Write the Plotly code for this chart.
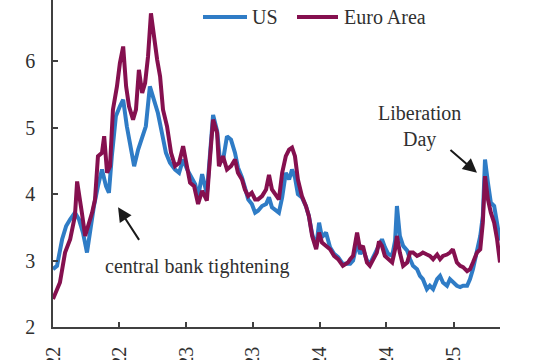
import plotly.graph_objects as go

us_dates = [
    "2022-01-01", "2022-01-12", "2022-01-26", "2022-02-06", "2022-02-17", "2022-03-02",
    "2022-03-13", "2022-03-24", "2022-04-04", "2022-04-12", "2022-04-23", "2022-05-04",
    "2022-05-15", "2022-05-26", "2022-06-03", "2022-06-11", "2022-06-22", "2022-07-03",
    "2022-07-12", "2022-07-22", "2022-08-02", "2022-08-11", "2022-08-22", "2022-09-02",
    "2022-09-12", "2022-09-23", "2022-10-04", "2022-10-15", "2022-10-26", "2022-11-06",
    "2022-11-17", "2022-12-01", "2022-12-12", "2022-12-23", "2023-01-03", "2023-01-14",
    "2023-01-25", "2023-02-02", "2023-02-13", "2023-02-26", "2023-03-07", "2023-03-15",
    "2023-03-26", "2023-04-03", "2023-04-11", "2023-04-22", "2023-05-03", "2023-05-14",
    "2023-05-22", "2023-06-02", "2023-06-10", "2023-06-19", "2023-06-29", "2023-07-08",
    "2023-07-16", "2023-07-27", "2023-08-07", "2023-08-15", "2023-08-23", "2023-09-03",
    "2023-09-11", "2023-09-20", "2023-09-30", "2023-10-09", "2023-10-17", "2023-10-25",
    "2023-11-02", "2023-11-13", "2023-11-24", "2023-12-02", "2023-12-11", "2023-12-22",
    "2023-12-30", "2024-01-07", "2024-01-18", "2024-01-29", "2024-02-09", "2024-02-20",
    "2024-03-04", "2024-03-18", "2024-03-24", "2024-04-01", "2024-04-12", "2024-04-20",
    "2024-04-28", "2024-05-09", "2024-05-17", "2024-05-26", "2024-06-05", "2024-06-19",
    "2024-06-27", "2024-07-06", "2024-07-17", "2024-07-25", "2024-07-30", "2024-08-07",
    "2024-08-16", "2024-08-27", "2024-09-04", "2024-09-12", "2024-09-23", "2024-10-01",
    "2024-10-09", "2024-10-20", "2024-10-28", "2024-11-06", "2024-11-17", "2024-11-25",
    "2024-12-03", "2024-12-14", "2024-12-22", "2024-12-30", "2025-01-10", "2025-01-19",
    "2025-01-27", "2025-02-07", "2025-02-15", "2025-02-23", "2025-03-06", "2025-03-15",
    "2025-03-22", "2025-03-28", "2025-04-05", "2025-04-13", "2025-04-22", "2025-04-30",
    "2025-05-08",
]
us_values = [
    2.87, 2.92, 3.32, 3.52, 3.62, 3.72,
    3.62, 3.42, 3.12, 3.42, 3.82, 4.12,
    4.37, 4.12, 4.02, 4.57, 5.17, 5.32,
    5.42, 5.02, 4.67, 4.42, 4.67, 4.87,
    5.02, 5.62, 5.42, 5.22, 4.92, 4.62,
    4.47, 4.37, 4.32, 4.52, 4.37, 4.27,
    4.15, 3.95, 4.30, 4.00, 4.60, 5.19,
    4.95, 4.50, 4.50, 4.87, 4.82, 4.62,
    4.40, 4.25, 4.10, 3.92, 3.85, 3.72,
    3.75, 3.82, 3.85, 3.95, 3.80, 3.75,
    3.72, 3.95, 4.32, 4.22, 4.37, 4.25,
    4.00, 3.95, 3.82, 3.67, 3.40, 3.20,
    3.57, 3.35, 3.42, 3.20, 3.10, 3.05,
    2.95, 2.95, 2.95, 3.00, 3.27, 3.10,
    3.17, 3.00, 2.95, 3.05, 3.17, 3.32,
    3.20, 3.10, 3.07, 3.30, 3.82, 3.37,
    3.22, 3.15, 3.02, 2.92, 2.87, 2.77,
    2.72, 2.57, 2.62, 2.57, 2.72, 2.77,
    2.67, 2.62, 2.72, 2.67, 2.62, 2.60,
    2.62, 2.62, 2.72, 2.87, 3.12, 3.37,
    3.67, 4.52, 4.17, 3.87, 3.82, 3.57,
    3.30,
]

ea_dates = [
    "2022-01-01", "2022-01-20", "2022-02-03", "2022-02-17", "2022-03-02", "2022-03-08",
    "2022-03-21", "2022-03-30", "2022-04-07", "2022-04-18", "2022-04-26", "2022-05-04",
    "2022-05-15", "2022-05-21", "2022-05-29", "2022-06-06", "2022-06-14", "2022-06-25",
    "2022-07-03", "2022-07-12", "2022-07-20", "2022-07-28", "2022-08-08", "2022-08-16",
    "2022-08-24", "2022-09-02", "2022-09-10", "2022-09-18", "2022-09-26", "2022-10-04",
    "2022-10-13", "2022-10-21", "2022-10-29", "2022-11-09", "2022-11-20", "2022-12-01",
    "2022-12-12", "2022-12-23", "2023-01-03", "2023-01-11", "2023-01-22", "2023-02-02",
    "2023-02-13", "2023-02-26", "2023-03-07", "2023-03-15", "2023-03-26", "2023-03-31",
    "2023-04-11", "2023-04-22", "2023-05-03", "2023-05-14", "2023-05-22", "2023-06-02",
    "2023-06-10", "2023-06-19", "2023-06-29", "2023-07-08", "2023-07-16", "2023-07-27",
    "2023-08-07", "2023-08-15", "2023-08-23", "2023-09-03", "2023-09-11", "2023-09-20",
    "2023-09-30", "2023-10-09", "2023-10-17", "2023-10-25", "2023-11-02", "2023-11-13",
    "2023-11-24", "2023-12-02", "2023-12-11", "2023-12-22", "2023-12-30", "2024-01-07",
    "2024-01-18", "2024-01-29", "2024-02-09", "2024-02-20", "2024-03-04", "2024-03-18",
    "2024-03-24", "2024-04-01", "2024-04-12", "2024-04-20", "2024-04-28", "2024-05-09",
    "2024-05-17", "2024-05-26", "2024-06-05", "2024-06-11", "2024-06-19", "2024-06-27",
    "2024-07-06", "2024-07-17", "2024-07-25", "2024-07-30", "2024-08-07", "2024-08-16",
    "2024-08-27", "2024-09-04", "2024-09-12", "2024-09-23", "2024-10-01", "2024-10-09",
    "2024-10-20", "2024-10-28", "2024-11-06", "2024-11-17", "2024-11-25", "2024-12-03",
    "2024-12-14", "2024-12-22", "2024-12-30", "2025-01-10", "2025-01-19", "2025-01-27",
    "2025-02-07", "2025-02-15", "2025-02-23", "2025-03-06", "2025-03-15", "2025-03-22",
    "2025-03-28", "2025-04-05", "2025-04-13", "2025-04-22", "2025-04-30", "2025-05-08",
]
ea_values = [
    2.42, 2.67, 3.12, 3.32, 3.67, 4.19,
    3.72, 3.37, 3.52, 3.72, 3.92, 4.57,
    4.62, 4.87, 4.32, 4.42, 5.27, 5.62,
    5.97, 6.22, 5.62, 5.32, 5.12, 5.27,
    5.87, 5.52, 5.67, 6.07, 6.72, 6.37,
    6.02, 5.77, 5.27, 5.02, 4.62, 4.42,
    4.47, 4.72, 4.42, 4.17, 4.12, 3.85,
    4.05, 3.90, 4.57, 5.12, 4.92, 4.42,
    4.57, 4.37, 4.42, 4.52, 4.32, 4.22,
    4.07, 3.97, 4.02, 3.92, 3.92, 3.97,
    4.07, 4.29, 4.07, 3.97, 3.92, 4.32,
    4.57, 4.67, 4.70, 4.57, 4.22, 3.97,
    3.82, 3.67, 3.37, 3.17, 3.42, 3.27,
    3.22, 3.17, 3.07, 3.02, 2.92, 2.97,
    3.02, 3.07, 3.42, 3.17, 3.22, 2.97,
    2.92, 3.02, 3.12, 3.29, 3.22, 3.07,
    3.02, 2.97, 3.17, 3.37, 3.12, 2.92,
    2.97, 3.12, 3.12, 3.07, 3.09, 3.12,
    3.09, 3.07, 3.02, 3.09, 3.02, 3.07,
    3.09, 3.12, 3.17, 2.97, 2.92, 2.90,
    2.84, 2.87, 2.97, 3.12, 3.17, 3.57,
    4.27, 3.92, 3.72, 3.57, 3.32, 2.97,
]

tick_dates = ["2022-01-01", "2022-07-01", "2023-01-01", "2023-07-01",
              "2024-01-01", "2024-07-01", "2025-01-01"]
tick_labels = ["Jan-22", "Jul-22", "Jan-23", "Jul-23", "Jan-24", "Jul-24", "Jan-25"]
y_ticks = [2, 3, 4, 5, 6]
series_names = ["US", "Euro Area"]

US_COLOR = "#2f7cc6"
EA_COLOR = "#85104f"
AXIS_COLOR = "#404040"
TEXT_COLOR = "#303030"
FONT = "Liberation Serif"
FS = 20

fig = go.Figure()
fig.add_trace(go.Scatter(x=us_dates, y=us_values, mode="lines", name=series_names[0],
                         line=dict(color=US_COLOR, width=4), showlegend=False))
fig.add_trace(go.Scatter(x=ea_dates, y=ea_values, mode="lines", name=series_names[1],
                         line=dict(color=EA_COLOR, width=4), showlegend=False))

fig.update_layout(
    width=540, height=360,
    margin=dict(l=53, r=40, t=0, b=33, autoexpand=False),
    paper_bgcolor="white", plot_bgcolor="white",
    font=dict(family=FONT, size=FS, color=TEXT_COLOR),
    showlegend=False,
    xaxis=dict(type="date", range=["2022-01-01", "2025-05-08"],
               tickvals=tick_dates, ticktext=tick_labels, tickangle=-90,
               ticks="inside", ticklen=5, tickwidth=1.5, tickcolor=AXIS_COLOR,
               showline=True, linecolor=AXIS_COLOR, linewidth=1.5,
               showgrid=False, zeroline=False, automargin=False,
               ticklabelstandoff=10,
               tickfont=dict(family=FONT, size=FS, color=TEXT_COLOR)),
    yaxis=dict(range=[2, 6.92], tickvals=y_ticks,
               ticks="inside", ticklen=5, tickwidth=1.5, tickcolor=AXIS_COLOR,
               showline=True, linecolor=AXIS_COLOR, linewidth=1.5,
               showgrid=False, zeroline=False, automargin=False,
               ticklabelstandoff=12,
               tickfont=dict(family=FONT, size=FS, color=TEXT_COLOR)),
)

# Legend drawn as line samples + labels (paper coordinates)
PW, PH = 447.0, 327.0
def px(xp):
    return (xp - 53) / PW
def py(yp):
    return (327 - yp) / PH

legend_items = [(series_names[0], US_COLOR, 203, 247, 250),
                (series_names[1], EA_COLOR, 297, 338, 342)]
for name, color, x0, x1, xt in legend_items:
    fig.add_shape(type="line", xref="paper", yref="paper",
                  x0=px(x0), x1=px(x1), y0=py(17), y1=py(17),
                  line=dict(color=color, width=4))
    fig.add_annotation(x=px(xt), y=py(17), xref="paper", yref="paper",
                       text=name, showarrow=False, xanchor="left", yanchor="middle",
                       font=dict(family=FONT, size=FS, color=TEXT_COLOR))

fig.add_annotation(x="2024-10-01", y=5.01, xref="x", yref="y",
                   text="Liberation<br>Day", showarrow=False,
                   font=dict(family=FONT, size=FS, color=TEXT_COLOR))
fig.add_annotation(x="2025-03-06", y=4.32, xref="x", yref="y", text="",
                   showarrow=True, ax=-28, ay=-24, arrowhead=2, arrowsize=1.4,
                   arrowwidth=2, arrowcolor="#1a1a1a")
fig.add_annotation(x="2023-01-30", y=2.91, xref="x", yref="y",
                   text="central bank tightening", showarrow=False,
                   font=dict(family=FONT, size=FS, color=TEXT_COLOR))
fig.add_annotation(x="2022-06-28", y=3.80, xref="x", yref="y", text="",
                   showarrow=True, ax=22, ay=34, arrowhead=2, arrowsize=1.4,
                   arrowwidth=2, arrowcolor="#1a1a1a")

fig.write_html("out.html", config={"displayModeBar": False},
               post_script="document.body.style.margin='0';")
